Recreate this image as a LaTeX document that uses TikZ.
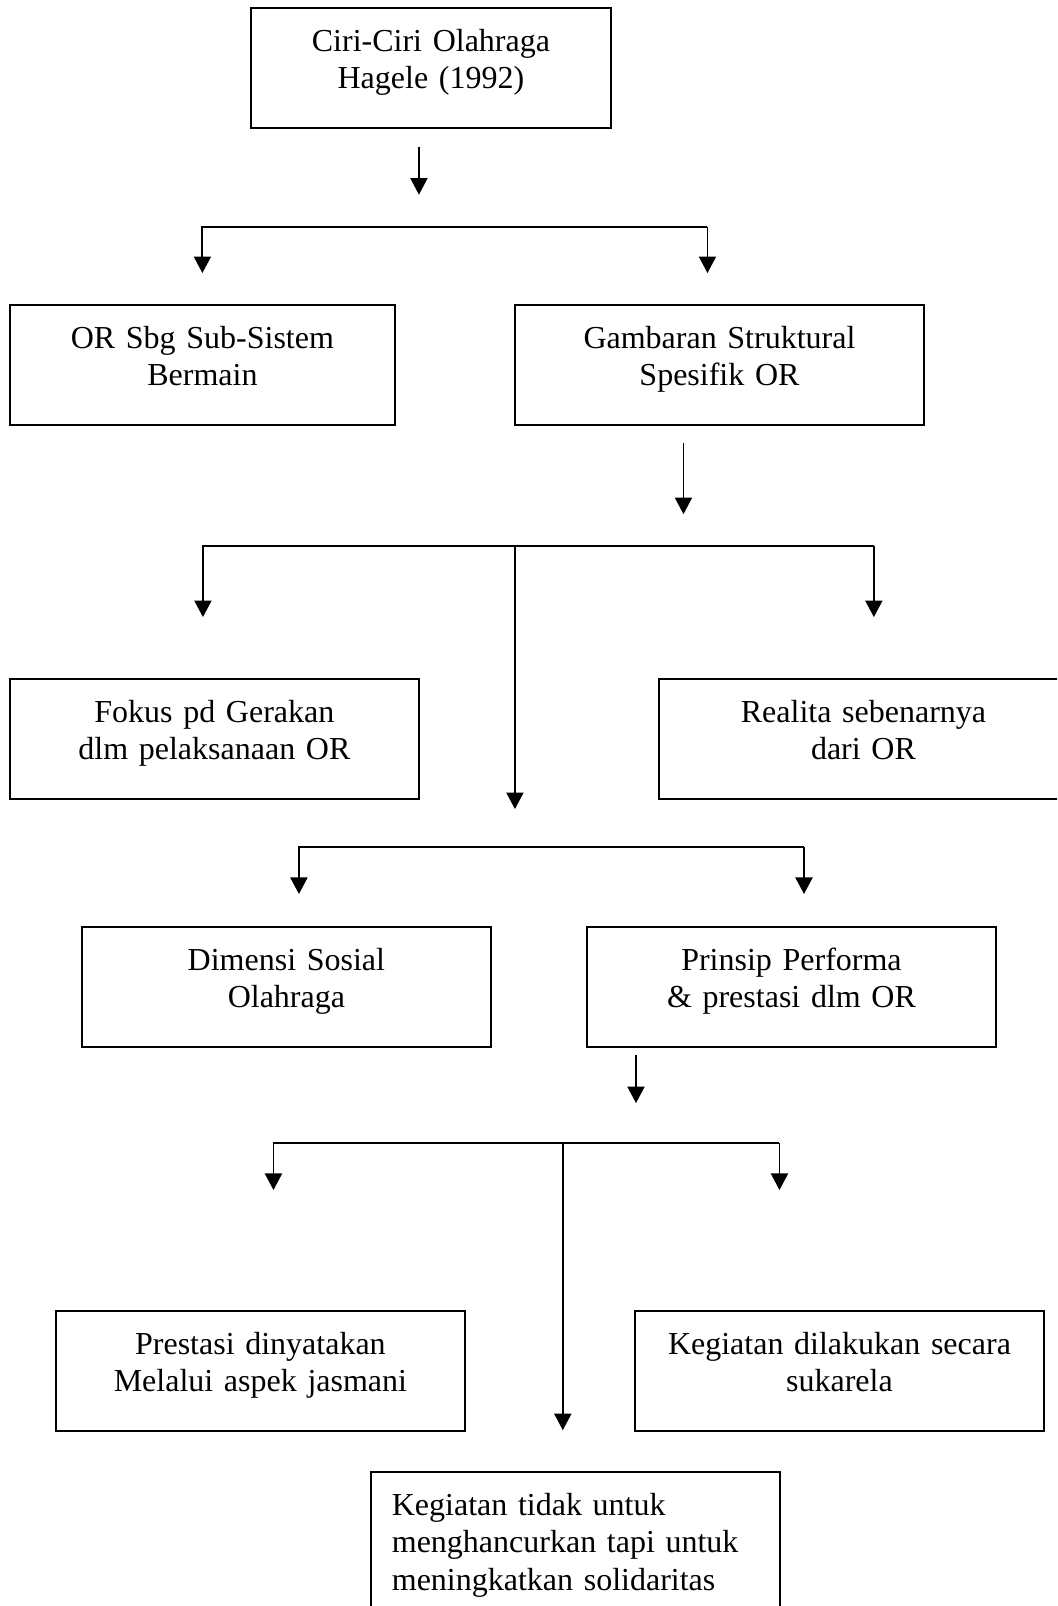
\documentclass[tikz,border=0pt]{standalone}
\usepackage{fontspec}
\setmainfont{Liberation Serif}[WordSpace=0.85]
\usetikzlibrary{positioning,arrows.meta}
\tikzstyle{obox}=[rectangle, draw=black, line width=0.7pt, inner sep=0pt, outer sep=0pt, text width=153.4pt, align=center, text height=16.2pt, text depth=28.8pt, font=\fontsize{12}{14}\selectfont]
\tikzstyle{pline}=[-, line width=0.7pt]
\tikzstyle{parrow}=[-{Triangle[width=6.4pt,length=6.2pt]}, line width=0.7pt]

\begin{document}
\begin{tikzpicture}[node distance=0pt]
\path[use as bounding box, clip] (0,0) rectangle (396.4pt,-602.25pt);
\node (hagele) [obox, text width=135pt, anchor=north west] at (94.1pt,-3pt) {Ciri-Ciri Olahraga\\Hagele (1992)};
\node (bermain) [obox, text width=144.4pt, below=66.4pt of hagele, xshift=-85.7pt] {OR Sbg Sub-Sistem\\Bermain};
\node (struktural) [obox, right=45pt of bermain] {Gambaran Struktural\\Spesifik OR};
\node (fokus) [obox, below=95.25pt of bermain.south west, anchor=north west] {Fokus pd Gerakan\\dlm pelaksanaan OR};
\node (realita) [obox, right=90pt of fokus] {Realita sebenarnya\\dari OR};
\node (dimensi) [obox, below=48pt of fokus.south west, anchor=north west, xshift=27pt] {Dimensi Sosial\\Olahraga};
\node (prinsip) [obox, right=36pt of dimensi] {Prinsip Performa\\\& prestasi dlm OR};
\node (prestasi) [obox, below=99pt of dimensi.south west, anchor=north west, xshift=-9.75pt] {Prestasi dinyatakan\\Melalui aspek jasmani};
\node (sukarela) [obox, right=63.75pt of prestasi] {Kegiatan dilakukan secara\\sukarela};
\node (solid) [obox, align=left, inner xsep=7.9pt, text width=137.6pt, text depth=45pt, below=15.4pt of prestasi.south west, anchor=north west, xshift=118.1pt] {Kegiatan tidak untuk\\menghancurkan tapi untuk\\meningkatkan solidaritas};

% level 1
\draw[parrow] ([xshift=-4.5pt,yshift=-7pt]hagele.south) -- ([xshift=-4.5pt,yshift=-25pt]hagele.south);
\coordinate (j1l) at ([yshift=29.25pt]bermain.north);
\coordinate (j1r) at ([xshift=-4.5pt,yshift=29.25pt]struktural.north);
\draw[parrow] (j1r) -- (j1l) -- ([yshift=12pt]bermain.north);
\draw[parrow] (j1r) -- ([xshift=-4.5pt,yshift=12pt]struktural.north);

% level 2
\draw[parrow] ([xshift=-13.5pt,yshift=-6.75pt]struktural.south) -- ([xshift=-13.5pt,yshift=-33.4pt]struktural.south);
\coordinate (j2l) at ([xshift=-4.3pt,yshift=49.9pt]fokus.north);
\coordinate (j2r) at ([xshift=3.9pt,yshift=49.9pt]realita.north);
\coordinate (j2m) at (struktural.west |- j2l);
\coordinate (e2) at ([yshift=-3.75pt]fokus.south);
\draw[parrow] (j2r) -- (j2l) -- ([xshift=-4.3pt,yshift=23.25pt]fokus.north);
\draw[parrow] (j2r) -- ([xshift=3.9pt,yshift=23.25pt]realita.north);
\draw[parrow] (j2m) -- (j2m |- e2);

% level 3
\coordinate (j3l) at ([xshift=4.7pt,yshift=30pt]dimensi.north);
\coordinate (j3r) at ([xshift=4.7pt,yshift=30pt]prinsip.north);
\draw[parrow] (j3r) -- (j3l) -- ([xshift=4.7pt,yshift=12.4pt]dimensi.north);
\draw[parrow] (j3r) -- ([xshift=4.7pt,yshift=12.4pt]prinsip.north);

% level 4
\draw[parrow] ([xshift=-58.3pt,yshift=-3pt]prinsip.south) -- ([xshift=-58.3pt,yshift=-21pt]prinsip.south);
\coordinate (j4l) at ([xshift=4.9pt,yshift=63pt]prestasi.north);
\coordinate (j4r) at ([xshift=-22.5pt,yshift=63pt]sukarela.north);
\coordinate (s4) at ([xshift=-4.7pt,yshift=15.75pt]solid.north);
\draw[parrow] (j4r) -- (j4l) -- ([xshift=4.9pt,yshift=45.4pt]prestasi.north);
\draw[parrow] (j4r) -- ([xshift=-22.5pt,yshift=45.4pt]sukarela.north);
\draw[parrow] (s4 |- j4l) -- (s4);
\end{tikzpicture}
\end{document}
